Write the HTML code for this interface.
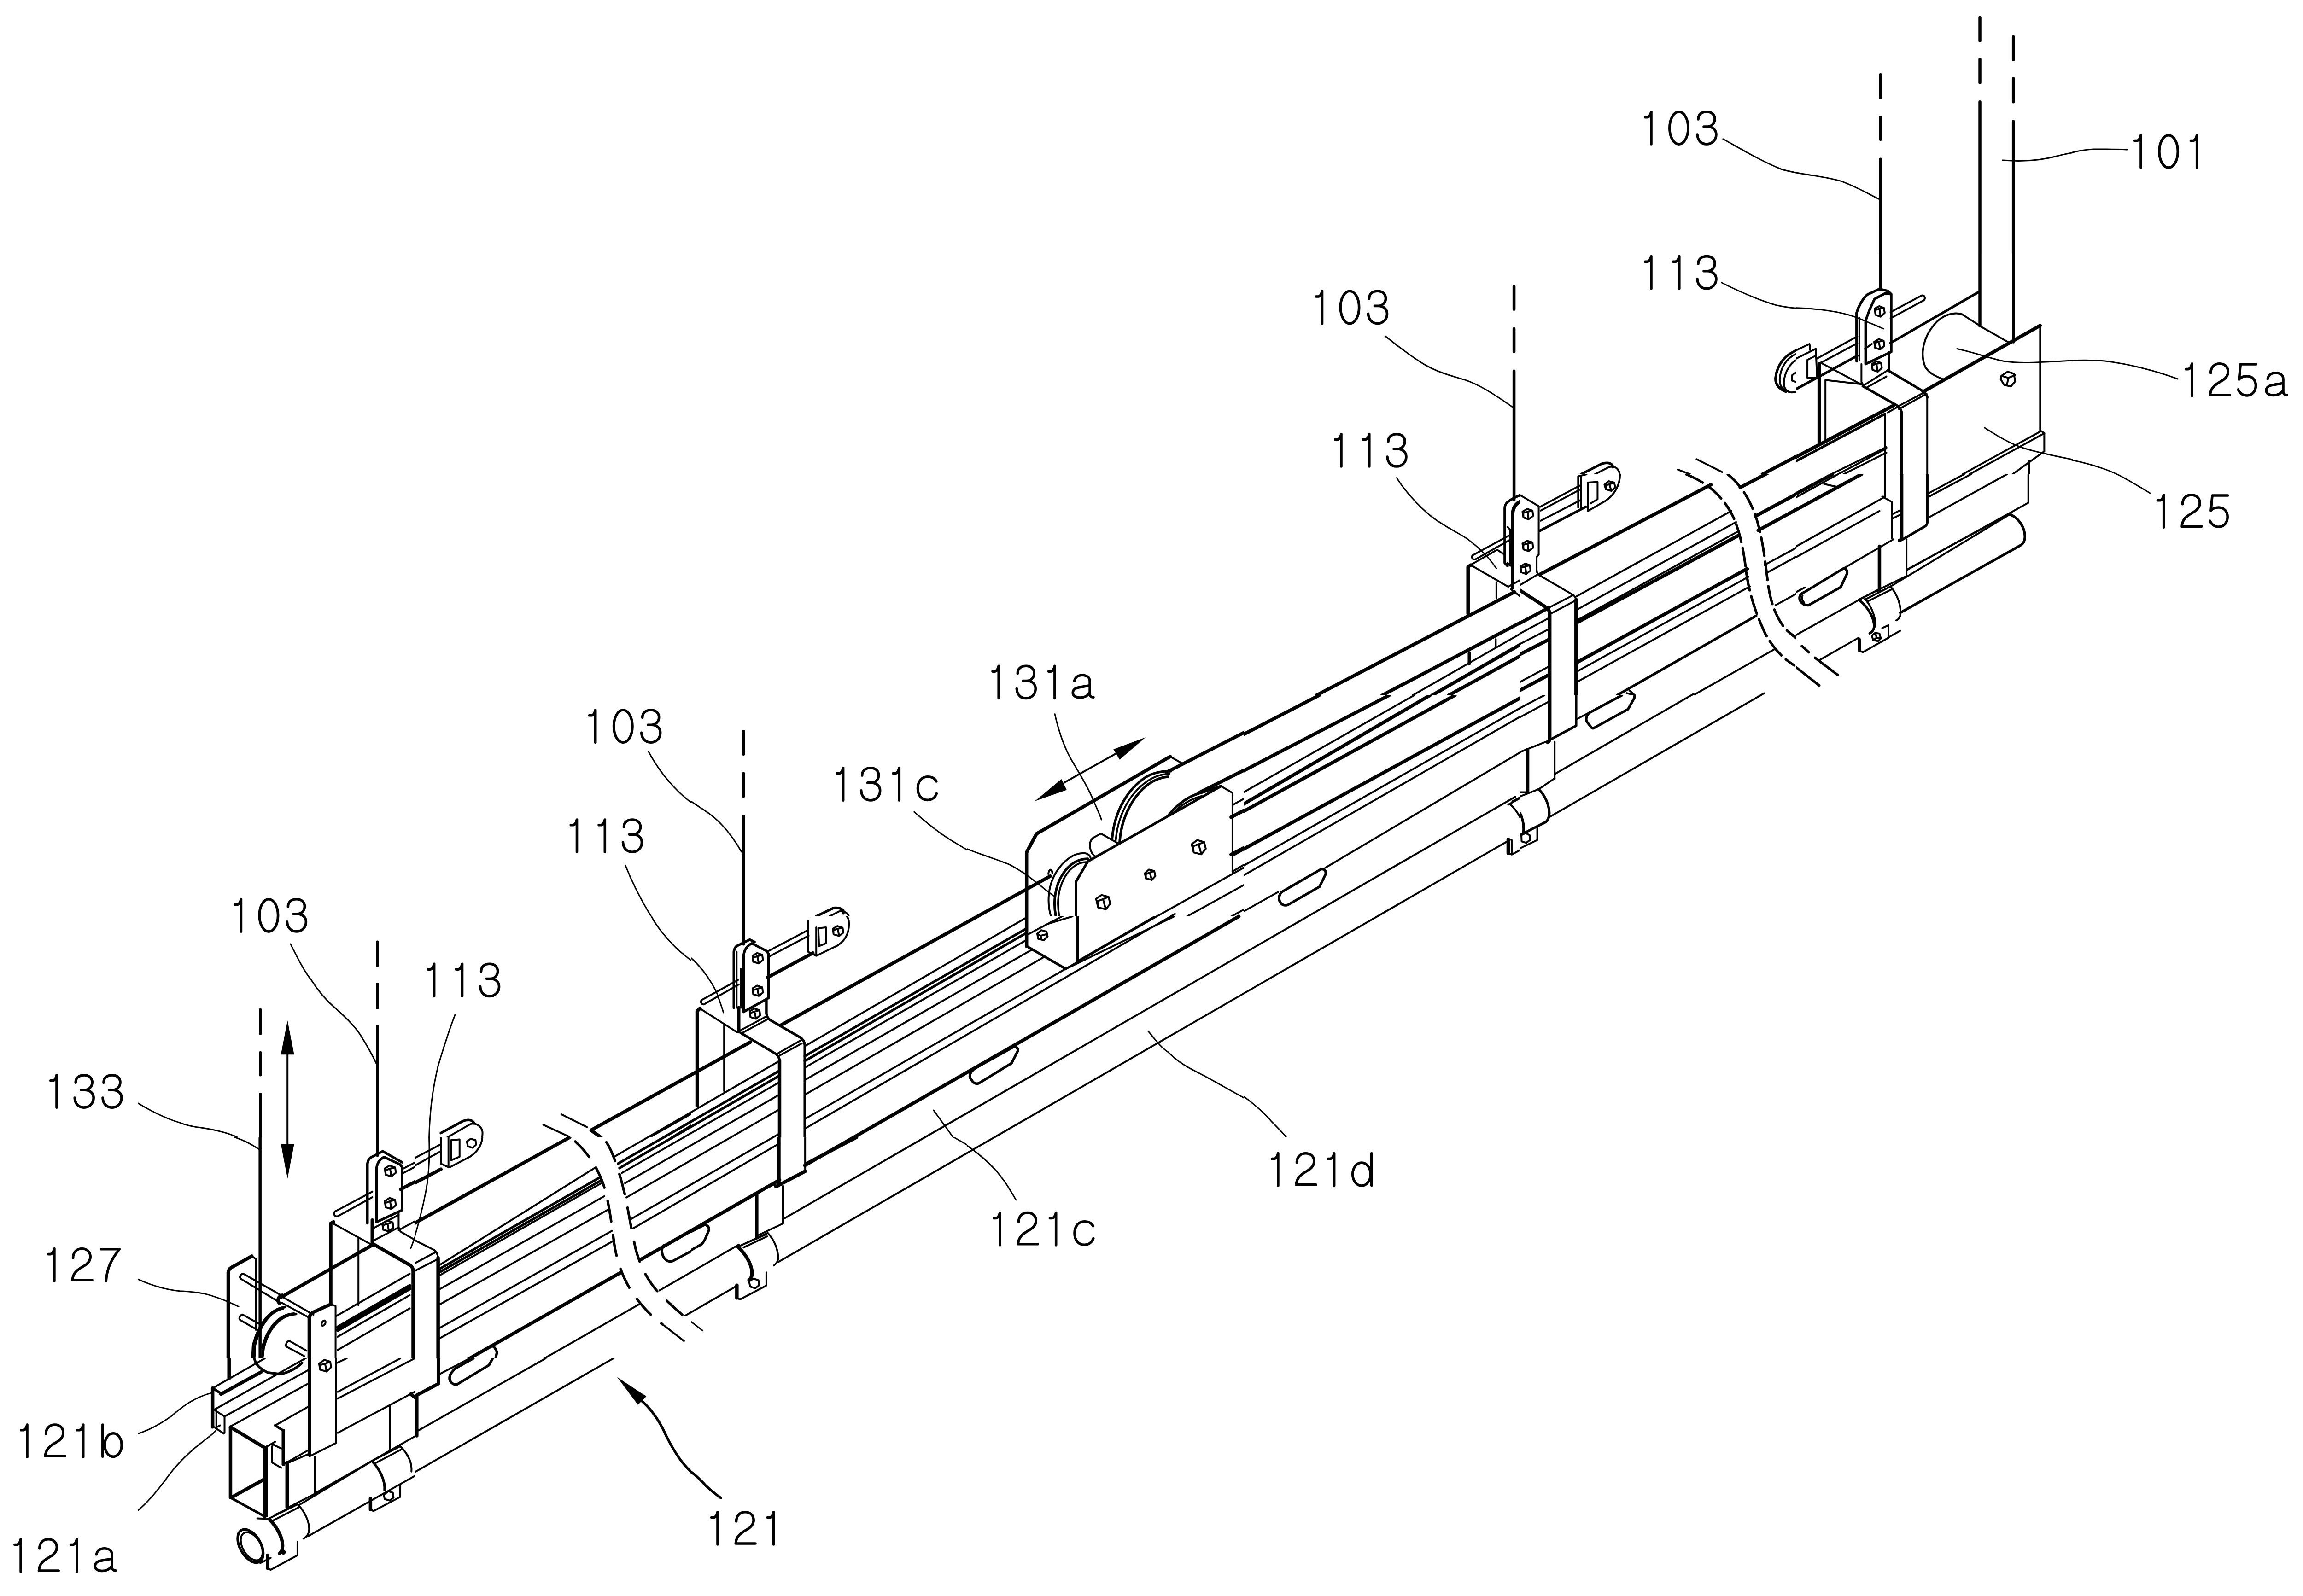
<!DOCTYPE html>
<html><head><meta charset="utf-8"><title>Patent drawing</title><style>
html,body{margin:0;padding:0;background:#fff;}
svg{display:block;}
svg *{vector-effect:non-scaling-stroke;}
path,line,polyline,ellipse,circle,polygon,rect{fill:none;stroke:#000;stroke-linecap:round;stroke-linejoin:round;stroke-width:4;}
.txt path{stroke-width:5.6;}
.k{stroke-width:7.5;} .n{stroke-width:4;} .t{stroke-width:3;} .m{stroke-width:5.5;} .h{stroke-width:6.5;}
.f{fill:#000;stroke:none;} .w{fill:#fff;stroke:none;} .fw{fill:#fff;}
</style></head>
<body><svg xmlns="http://www.w3.org/2000/svg" width="5023" height="3466" viewBox="0 0 5023 3466">
<rect x="0" y="0" width="5023" height="3466" class="w"/>
<g transform="translate(0 0) scale(1)">
<path class="t" d="M4496,332 C4510,328 4525,325 4545,324 C4570,324 4590,324 4618,325"/>
<path class="t" d="M4495,783 C4520,782 4545,782 4570,784 C4620,790 4680,805 4728,823"/>
<path class="t" d="M4498,999 C4540,1008 4580,1020 4610,1037 C4630,1048 4650,1060 4668,1071"/>
<path class="m" d="M1501,3197 C1512,3205 1522,3215 1532,3226 C1545,3238 1555,3246 1565,3253"/>
</g>
<g transform="translate(0 0) scale(1)">
<path class="k" d="M1284.4,2453.8 L1629.0,2263.1 M1695.0,2226.6 L2280.0,1902.8"/>
<path class="n" d="M1334.6,2511.6 L1692.5,2303.8 M1747.2,2272.1 L2228.7,1992.6"/>
<path class="m" d="M1342.0,2526.9 L1692.5,2325.1 M1747.2,2293.6 L2228.7,2016.3"/>
<path class="m" d="M1345.0,2536.7 L1692.5,2335.8 M1747.2,2304.2 L2228.7,2025.8"/>
<path class="n" d="M1350.0,2547.3 L1692.5,2350.1 M1747.2,2318.6 L2228.7,2041.3"/>
<path class="n" d="M1357.0,2569.5 L1692.5,2377.0 M1747.2,2345.6 L2241.0,2062.0"/>
<path class="n" d="M1360.0,2600.5 L1692.5,2409.0 M1747.2,2377.5 L2268.0,2077.6"/>
<path class="n" d="M1368.0,2648.6 L1692.5,2461.7 M1747.2,2430.2 L2512.0,1989.7"/>
<path class="n" d="M1374.0,2667.9 L1692.5,2483.0 M1747.2,2451.3 L2551.0,1984.8"/>
<path class="k" d="M1390.0,2736.0 L1692.5,2562.4 M1747.2,2531.0 L2689.5,1990.3"/>
<path class="n" d="M1432.0,2802.3 L1604.0,2703.0 M1703.0,2645.9 L3290.0,1730.2 M3375.0,1681.2 L3676.0,1507.5"/>
<path class="n" d="M1488.0,2856.9 L1598.0,2793.5 M1690.0,2740.4 L3278.0,1824.1 M3362.0,1775.6 L3830.0,1505.6"/>
</g>
<clipPath id="cr01_rear"><rect x="3900" y="550" width="600" height="480"/></clipPath>
<g clip-path="url(#cr01_rear)"><g transform="translate(3900 550) scale(0.300752)">
<path class="h" d="M607,0 L607,262"/>
<path class="h" d="M1325,0 L1325,525"/>
<path class="h" d="M1567,0 L1567,640"/>
<path class="m" d="M680,648 L1312,282"/>
<path class="n" d="M1325,525 L1540,648"/>
<path class="k" d="M915,1000 L1760,522"/>
<path class="n" d="M1760,525 L1760,1280 L1790,1298 L1790,1430"/>
<path class="n" d="M1195,440 C1130,420 1050,450 1000,510 C920,600 890,720 930,820 C960,870 1010,890 1065,912"/>
<path class="n" d="M1195,440 L1320,520"/>
<path class="t" d="M1160,690 C1300,720 1400,760 1500,780 C1600,795 1700,790 1800,785 L1995,775"/>
<path class="t" d="M1360,1260 C1450,1320 1550,1380 1650,1410 C1750,1440 1870,1465 1995,1490"/>
<path class="n" d="M1480,885 L1525,855 L1570,870 L1580,925 L1548,962 L1500,950 L1475,910 Z M1480,885 L1530,900 L1580,880 M1530,900 L1520,955"/>
<path class="n" d="M945,1030 L945,1596"/>
<path class="n" d="M1200,1596 L1765,1285 M1250,1596 L1790,1300 M1680,1596 L1680,1500 M1560,1596 L1790,1430"/>
<path class="m" d="M480,960 L720,1095 Q755,1115 760,1150 L760,1596"/>
<path class="m" d="M660,845 L905,990 Q940,1010 945,1040"/>
<path class="n" d="M480,958 L660,845 M510,968 L650,890 M735,1105 L930,1002 M740,1125 L940,1015"/>
<path class="n" d="M640,1160 L640,1596 M660,1150 L740,1105"/>
<path class="m" d="M435,780 L435,430 C450,380 480,330 510,300 L600,258 L660,272 L685,295 L685,712 L500,800 L500,490 C520,420 545,370 565,330 L640,290 L685,295"/>
<path class="n" d="M455,465 L455,770 M470,800 L470,930 L485,955 M670,712 L670,850"/>
<path class="n" d="M565,400 L598,382 L632,395 L638,430 L608,458 L572,445 Z M572,445 L570,410 L600,400 L632,395 M600,400 L608,458"/>
<path class="n" d="M562,640 L595,620 L630,632 L635,668 L605,695 L568,682 Z M568,682 L566,648 L596,638 L630,632 M596,638 L605,695"/>
<path class="n" d="M545,800 L578,780 L612,792 L617,828 L588,855 L550,842 Z M550,842 L548,808 L578,798 L612,792 M578,798 L588,855"/>
<path class="n" d="M680,425 L905,305 C925,300 935,325 920,340 L680,470"/>
<path class="n" d="M495,690 L545,655"/>
<path class="t" d="M0,395 C150,400 300,418 420,458 C500,490 560,515 628,545"/>
<path class="k" d="M0,1470 L700,1100"/>
<path class="k" d="M165,800 L165,1380"/>
<path class="n" d="M210,915 L210,1350 M210,915 L470,945 M175,790 L455,940"/>
<path class="m" d="M0,980 L440,740"/>
<path class="n" d="M0,700 L95,655 L100,700 M0,760 L140,690 L150,900 L80,900 L80,770 L140,740"/>
<path class="n" d="M150,760 L440,600 M160,800 L440,650"/>
<path class="m" d="M0,1500 L640,1160"/>
<path class="n" d="M300,1596 L650,1410 M340,1596 L650,1440 M250,1596 L650,1400"/>
</g></g>
<clipPath id="cr02_topwires"><rect x="3500" y="0" width="1000" height="550"/></clipPath>
<g clip-path="url(#cr02_topwires)"><g transform="translate(3500 0) scale(0.432339)">
<path class="h" d="M1348,375 L1348,490 M1348,588 L1348,700 M1348,800 L1348,1300"/>
<path class="h" d="M1847,88 L1847,205 M1847,298 L1847,415 M1847,512 L1847,1300"/>
<path class="h" d="M2015,185 L2015,300 M2015,395 L2015,512 M2015,610 L2015,1300"/>
<path class="t" d="M557,698 C650,750 750,810 850,850 C950,880 1050,880 1150,910 C1230,940 1290,975 1340,1000"/>
<path class="t" d="M1960,805 L2020,808 C2100,810 2180,800 2250,780 C2300,768 2350,760 2400,752"/>
</g></g>
<clipPath id="cr06"><rect x="3300" y="550" width="600" height="480"/></clipPath>
<g clip-path="url(#cr06)"><g transform="translate(3300 550) scale(0.300752)">
<path class="t" d="M1455,212 C1550,260 1700,330 1850,375 C1920,390 1960,395 2000,397"/>
<path class="m" d="M2000,700 C1920,730 1855,800 1845,900 C1842,950 1870,980 1920,1000"/>
<path class="n" d="M2000,725 C1930,750 1880,820 1875,910 C1873,960 1895,985 1940,1000"/>
<path class="n" d="M2000,770 C1950,790 1910,860 1905,930 C1903,975 1920,1000 1960,1005 C1980,1005 1995,1000 2000,998"/>
<path class="n" d="M1965,880 L1995,860 M1965,880 L1965,920 L1995,930"/>
<path class="m" d="M440,1596 L590,1520 C640,1505 670,1520 670,1545"/>
<path class="n" d="M540,1596 L640,1545 C690,1530 715,1560 720,1596"/>
<path class="n" d="M1140,1562 L1230,1596"/>
<path class="n" d="M1275,1487 L1460,1580"/>
<path class="k" d="M1750,1596 L2000,1465"/>
</g></g>
<clipPath id="cr07"><rect x="3300" y="1030" width="600" height="480"/></clipPath>
<g clip-path="url(#cr07)"><g transform="translate(3300 1030) scale(0.300752)">
<path class="n" d="M0,150 L135,230 L135,580 L120,598 L120,690 Q122,725 150,735 L378,868 Q400,880 405,905 L405,1596"/>
<path class="k" d="M405,905 L405,1596"/>
<path class="k" d="M0,838 L185,958 Q212,975 215,1005 L215,1596"/>
<path class="n" d="M0,800 L130,722 M205,965 L385,872 M215,1010 L400,912"/>
<path class="n" d="M18,270 L52,250 L90,262 L95,300 L62,325 L25,312 Z M25,312 L24,280 L55,270 L90,262 M55,270 L62,325"/>
<path class="n" d="M18,500 L52,480 L90,492 L95,530 L62,555 L25,542 Z M25,542 L24,510 L55,500 L90,492 M55,500 L62,555"/>
<path class="n" d="M5,665 L38,645 L72,657 L76,695 L45,720 L8,707 Z M8,707 L7,675 L38,665 L72,657 M38,665 L45,720"/>
<path class="n" d="M145,235 L430,82 M150,262 L430,112 M150,335 L440,185"/>
<path class="m" d="M140,410 L475,235"/>
<path class="n" d="M420,240 L420,15 L480,0 M440,245 L440,20 M490,265 L490,60 L560,55 L560,180 L510,210 M490,265 L620,190 C680,150 722,80 722,0"/>
<path class="n" d="M610,75 L640,50 L680,60 L688,95 L660,120 L620,108 Z M620,108 L618,80 L645,72 L680,60 M645,72 L660,120"/>
<path class="k" d="M145,722 L1378,75"/>
<path class="n" d="M410,880 L1525,265"/>
<path class="n" d="M410,978 L1560,345"/>
<path class="k" d="M405,1075 L1580,440"/>
<path class="n" d="M410,1055 L1570,415"/>
<path class="k" d="M405,1362 L1640,682"/>
<path class="n" d="M410,1425 L1650,740 M410,1500 L1660,810"/>
<path class="m" d="M700,1596 L1705,1022"/>
<path class="n" d="M1250,1596 L1840,1262"/>
<path class="n" d="M770,1580 L830,1596 L790,1560"/>
<path class="k" d="M1590,95 L1800,-15 M1700,302 L2000,140 M1720,405 L2000,252"/>
<path class="n" d="M1765,655 L2000,528 M1780,712 L2000,592 M1845,945 L2000,860"/>
<path class="n" d="M1960,1160 L2000,1190"/>
<path class="k" d="M0,1075 L205,965 M0,1300 L205,1195 M0,1560 L205,1450"/>
<path class="n" d="M0,1150 L205,1040 M0,1225 L205,1120 M0,1500 L205,1390"/>
<path class="m" style="stroke-dasharray:40 13" d="M1200,0 C1350,60 1450,150 1520,270 C1580,380 1610,520 1630,680 C1650,850 1700,1000 1770,1150 C1830,1260 1900,1330 1980,1380"/>
<path class="m" style="stroke-dasharray:40 13" d="M1500,0 C1600,80 1670,200 1710,330 C1750,460 1770,620 1790,790 C1810,930 1850,1040 1920,1120 C1950,1150 1980,1170 2000,1180"/>
</g></g>
<clipPath id="cr08"><rect x="3900" y="1030" width="600" height="480"/></clipPath>
<g clip-path="url(#cr08)"><g transform="translate(3900 1030) scale(0.300752)">
<path class="k" d="M760,0 L760,455 Q758,475 745,478"/>
<path class="m" d="M945,0 L945,350 Q943,368 925,378 L765,472"/>
<path class="n" d="M640,0 L640,162 L620,162 M620,160 L690,200 L690,460 M690,290 L745,262 M690,322 L745,294"/>
<path class="k" d="M600,520 L600,832"/>
<path class="n" d="M795,470 L795,735"/>
<path class="k" d="M0,140 L260,0 M0,255 L470,0"/>
<path class="n" d="M0,165 L300,0 M200,70 L290,90"/>
<path class="n" d="M0,520 L630,168"/>
<path class="n" d="M0,598 L600,265"/>
<path class="n" d="M0,850 L60,818 M340,680 L700,470"/>
<path class="m" d="M60,850 L340,680 C360,680 372,700 365,720 L320,815 L90,945 C50,950 15,915 25,880 C30,865 45,855 60,850"/>
<path class="n" d="M45,875 C40,890 40,910 55,925"/>
<path class="n" d="M0,1160 L455,905 M600,830 L795,735 M795,690 L1550,280"/>
<path class="n" d="M1675,0 L1675,205 L800,690"/>
<path class="n" d="M950,140 L1210,0 M950,165 L1260,0 M950,315 L1520,0"/>
<path class="n" d="M450,905 L600,830 M680,810 L1540,290"/>
<path class="m" d="M1540,290 C1600,310 1650,380 1650,450 C1650,480 1640,500 1620,512 L750,1000"/>
<path class="n" d="M170,1340 L450,1180 M660,1180 L750,1130"/>
<path class="m" d="M455,910 C520,960 570,1050 560,1110 C555,1130 545,1140 530,1148"/>
<path class="n" d="M495,900 C540,950 575,1030 570,1100 M680,810 C730,870 760,950 750,1020 C745,1040 735,1050 720,1055"/>
<path class="n" d="M495,905 L680,810 M510,920 L690,830 M455,905 L580,840 L590,850"/>
<path class="n" d="M450,1190 L450,1270 L480,1285 L665,1180 L665,1090 L620,1110"/>
<path class="k" d="M455,1195 L455,1270"/>
<path class="n" d="M545,1165 L570,1145 L600,1150 L610,1185 L590,1205 L555,1198 Z M570,1145 L580,1180 L555,1198 M580,1180 L610,1185"/>
<path class="m" d="M40,1240 L90,1285 M135,1325 L300,1450 M0,1395 L165,1525"/>
</g></g>
<clipPath id="cr10"><rect x="2700" y="550" width="600" height="480"/></clipPath>
<g clip-path="url(#cr10)"><g transform="translate(2700 550) scale(0.300752)">
<path class="h" d="M1952,240 L1952,405 M1952,545 L1952,710 M1952,850 L1952,1700"/>
<path class="t" d="M1022,598 C1100,660 1200,740 1300,800 C1400,860 1500,885 1600,915 C1700,950 1800,1010 1940,1110"/>
</g></g>
<clipPath id="cr11"><rect x="2700" y="1030" width="600" height="480"/></clipPath>
<g clip-path="url(#cr11)"><g transform="translate(2700 1030) scale(0.300752)">
<path class="h" d="M1952,0 L1952,185"/>
<path class="m" d="M2000,148 C1960,165 1925,185 1905,200 Q1885,220 1885,245 L1885,640 L1905,662"/>
<path class="k" d="M2000,195 C1965,210 1945,240 1942,285 L1942,820"/>
<path class="n" d="M1905,380 L1925,400 L1925,660 M1905,640 L1925,660"/>
<path class="n" d="M1662,580 L1920,440 M1672,615 L1925,472 M1662,580 C1640,585 1645,620 1672,615"/>
<path class="t" d="M1105,25 C1150,100 1250,220 1350,300 C1450,380 1550,420 1620,470 C1700,530 1770,600 1825,680"/>
<path class="k" d="M1620,1005 L1620,668 L1640,656"/>
<path class="n" d="M1640,656 L1910,812 M1825,780 L1825,895 M1650,648 L1830,545 L1880,578 M1910,812 L1995,765 M1930,830 L1995,880"/>
<path class="k" d="M525,1596 L1955,850"/>
<path class="k" d="M1000,1596 L2000,1070"/>
<path class="n" d="M1220,1596 L2000,1150"/>
<path class="k" d="M1360,1596 L2000,1228 M1480,1596 L2000,1310"/>
<path class="k" d="M1630,1290 L1630,1365"/>
<path class="n" d="M1820,1190 L1820,1245"/>
</g></g>
<clipPath id="cr12"><rect x="2700" y="1510" width="600" height="480"/></clipPath>
<g clip-path="url(#cr12)"><g transform="translate(2700 1510) scale(0.300752)">
<path class="k" d="M0,282 L545,0"/>
<path class="k" d="M0,545 L1050,0"/>
<path class="n" d="M0,700 L1230,0"/>
<path class="k" d="M0,785 L1345,0"/>
<path class="k" d="M0,838 L1525,0"/>
<path class="k" d="M0,1110 L2000,18"/>
<path class="n" d="M0,1230 L2000,90"/>
<path class="n" d="M0,1300 L2000,152"/>
<path class="n" d="M0,1560 L250,1420 M590,1245 L2000,410"/>
<path class="m" d="M275,1420 L560,1255 Q598,1252 592,1292 L548,1382 L322,1512 Q290,1525 268,1500 Q240,1460 275,1420"/>
<path class="n" d="M1910,790 L2000,740 M1920,782 C1950,810 1980,850 1995,880 M1940,765 L2000,735"/>
<path class="k" d="M1910,1040 L1910,1140"/>
<path class="n" d="M1910,1140 L1935,1150 L2000,1115 M1935,1045 L1935,1150"/>
</g></g>
<clipPath id="cr13"><rect x="3300" y="1510" width="600" height="480"/></clipPath>
<g clip-path="url(#cr13)"><g transform="translate(3300 1510) scale(0.300752)">
<path class="k" d="M215,0 L215,315 Q212,335 200,340"/>
<path class="m" d="M405,0 L405,220 L215,322"/>
<path class="n" d="M0,92 L175,0 M0,158 L200,50"/>
<path class="k" d="M55,392 L55,702"/>
<path class="n" d="M250,335 L250,600 M0,410 L200,330 M410,172 L735,0"/>
<path class="m" d="M530,238 L780,100 L825,20 L828,0 M482,190 C470,160 490,130 512,120 L735,0 M482,190 L510,225 Q520,240 530,238"/>
<path class="n" d="M0,730 L135,678 L250,600 M0,700 L50,700"/>
<path class="m" d="M135,678 C180,720 210,790 212,850 C212,880 200,905 185,915 L0,1010"/>
<path class="m" d="M0,850 C20,890 30,940 25,990"/>
<path class="n" d="M0,1105 L125,1045 L125,950 M10,1010 L40,995 L70,1010 L72,1045 L45,1065 L12,1055 Z"/>
</g></g>
<clipPath id="cr14"><rect x="2100" y="1510" width="600" height="480"/></clipPath>
<g clip-path="url(#cr14)"><g transform="translate(2100 1510) scale(0.300752)">
<path class="t" d="M632,135 C660,260 700,380 760,480 C820,580 880,680 920,780 C950,850 965,880 968,898"/>
<path class="t" d="M0,1110 C100,1150 200,1180 300,1220 C400,1270 500,1350 560,1400 L625,1450"/>
<path class="n" d="M700,630 L1075,420"/>
<path class="f" d="M1287,303 L1055,390 L1100,465 Z M487,765 L680,605 L718,683 Z"/>
<path class="k" d="M428,1600 L428,1135 L500,1000 L1465,442"/>
<path class="n" d="M1465,442 L1552,492"/>
<path class="k" d="M1440,555 L2000,268"/>
<path class="k" d="M1680,700 L2000,540"/>
<path class="m" d="M1045,1040 C1060,850 1150,680 1290,590 C1350,555 1420,545 1470,548"/>
<path class="n" d="M1072,1048 C1085,870 1170,710 1300,620 C1360,580 1420,568 1460,568"/>
<path class="m" d="M1100,1062 C1110,890 1190,730 1310,640 C1370,600 1420,590 1450,588"/>
<path class="m" d="M785,1600 L785,1345 L870,1200 L1832,656"/>
<path class="n" d="M1832,656 L1915,705 L1915,1275"/>
<path class="n" d="M1620,1075 L1660,1045 L1710,1060 L1722,1108 L1690,1148 L1635,1135 Z M1635,1135 L1630,1090 L1670,1075 L1710,1060 M1670,1075 L1690,1148"/>
<path class="n" d="M1282,1285 L1312,1258 L1350,1268 L1358,1305 L1332,1333 L1290,1322 Z M1290,1322 L1288,1292 L1318,1280 L1350,1268 M1318,1280 L1332,1333"/>
<path class="n" d="M930,1470 L970,1442 L1020,1455 L1032,1505 L1000,1545 L945,1532 Z M945,1532 L940,1487 L980,1472 L1020,1455 M980,1472 L1000,1545"/>
<path class="m" d="M640,1600 C620,1500 630,1380 690,1290 C740,1215 800,1180 870,1180"/>
<path class="n" d="M605,1600 C575,1500 580,1380 640,1280 C690,1200 760,1140 840,1140 C870,1140 890,1160 890,1175"/>
<path class="n" d="M665,1600 C645,1500 655,1400 705,1310 C750,1235 810,1200 870,1205"/>
<path class="n" d="M585,1290 C590,1255 610,1245 615,1285"/>
<path class="n" d="M932,1168 C880,1140 870,1060 910,1028 L965,998 L1090,1070"/>
<path class="m" d="M1450,870 C1520,780 1600,725 1700,700 L1830,655"/>
<path class="n" d="M1480,860 C1540,790 1610,750 1690,728"/>
<path class="n" d="M1915,792 L2000,745 M1915,880 L2000,832 M1915,1160 L2000,1112 M1915,1272 L2000,1222"/>
<path class="k" d="M1905,1150 L2000,1100 M1905,880 L2000,830"/>
<path class="n" d="M1362,1600 L2000,1242 M1580,1600 L2000,1368 M1900,1600 L2000,1545"/>
</g></g>
<clipPath id="cr15"><rect x="1500" y="1510" width="600" height="480"/></clipPath>
<g clip-path="url(#cr15)"><g transform="translate(1500 1510) scale(0.300752)">
<path class="h" d="M380,260 L380,425 M380,565 L380,728 M380,872 L380,1700"/>
<path class="t" d="M0,765 C50,800 100,830 140,860 C220,920 290,1000 365,1130"/>
<path class="t" d="M1612,842 C1700,920 1800,1000 1900,1060 L2000,1120"/>
<path class="m" d="M905,1596 L1030,1535 C1080,1530 1110,1550 1100,1575"/>
<path class="n" d="M1000,1596 L1070,1560 C1110,1555 1135,1575 1140,1596"/>
</g></g>
<clipPath id="cr16"><rect x="1500" y="1990" width="600" height="480"/></clipPath>
<g clip-path="url(#cr16)"><g transform="translate(1500 1990) scale(0.300752)">
<path class="h" d="M380,0 L380,200"/>
<path class="t" d="M0,300 C80,370 150,470 190,560 C210,620 225,660 235,695"/>
<path class="m" d="M310,660 L310,255 Q315,220 340,210 L425,168 L460,185"/>
<path class="m" d="M380,690 L380,300 C380,250 400,215 440,195 L545,250 L560,270 L560,590 L380,690"/>
<path class="k" d="M345,660 L345,832"/>
<path class="n" d="M330,255 L330,660 M360,380 L360,660"/>
<path class="n" d="M445,285 L478,265 L515,278 L520,315 L490,340 L450,328 Z M450,328 L448,298 L480,288 L515,278 M480,288 L490,340"/>
<path class="n" d="M445,520 L478,500 L515,513 L520,550 L490,575 L450,563 Z M450,563 L448,533 L480,523 L515,513 M480,523 L490,575"/>
<path class="n" d="M425,685 L458,665 L495,678 L500,715 L470,740 L430,728 Z M430,728 L428,698 L460,688 L495,678 M460,688 L470,740"/>
<path class="n" d="M85,600 L340,460 M95,635 L345,492 M85,600 C65,605 70,640 95,635"/>
<path class="n" d="M560,250 L845,100 M565,290 L850,140"/>
<path class="k" d="M555,440 L880,265"/>
<path class="n" d="M845,30 L845,255 L905,285 L905,80 M920,85 L975,80 L975,195 L925,215 Z M905,285 L1060,210 C1120,170 1145,110 1140,40 C1139,20 1132,8 1125,0"/>
<path class="n" d="M1025,90 L1058,70 L1095,82 L1100,118 L1070,142 L1030,130 Z M1030,130 L1028,100 L1060,90 L1095,82 M1060,90 L1070,142"/>
<path class="k" d="M45,1368 L45,685 L65,665"/>
<path class="n" d="M65,665 L330,835 M240,790 L240,1262"/>
<path class="m" d="M360,842 L608,990 Q636,1008 640,1040 L640,1600"/>
<path class="k" d="M640,1040 L640,1600"/>
<path class="m" d="M545,600 L545,700 Q548,735 575,750 L790,875 Q820,895 822,930 L822,1600"/>
<path class="n" d="M630,988 L800,892 M628,1012 L800,918 M360,822 L545,722 M370,842 L550,745"/>
<path class="t" d="M1752,1400 C1800,1470 1850,1530 1895,1600"/>
</g></g>
<clipPath id="cr17"><rect x="2100" y="1990" width="600" height="480"/></clipPath>
<g clip-path="url(#cr17)"><g transform="translate(2100 1990) scale(0.300752)">
<path class="k" d="M428,0 L428,215"/>
<path class="m" d="M428,215 L712,380"/>
<path class="k" d="M795,0 L795,330"/>
<path class="n" d="M505,125 L535,100 L572,110 L580,145 L552,172 L512,162 Z M505,125 L530,140 L575,128 M530,140 L535,168"/>
<path class="n" d="M440,130 L580,55 L760,0 M580,55 L760,-40"/>
<path class="n" d="M712,380 L1495,0 M805,318 L1355,0"/>
<path class="m" d="M60,1095 L340,940 Q368,945 365,972 L320,1060 L85,1205 Q60,1215 40,1195 L20,1165 Q10,1130 60,1095"/>
<path class="t" d="M1305,828 C1350,880 1400,950 1450,980 C1500,1030 1550,1070 1650,1120 C1750,1170 1850,1230 2000,1312"/>
</g></g>
<clipPath id="cr18"><rect x="2700" y="1990" width="600" height="480"/></clipPath>
<g clip-path="url(#cr18)"><g transform="translate(2700 1990) scale(0.300752)">
<path class="t" d="M0,1300 C80,1360 150,1420 200,1480 C250,1530 290,1570 312,1600"/>
</g></g>
<clipPath id="cr19"><rect x="900" y="1990" width="600" height="480"/></clipPath>
<g clip-path="url(#cr19)"><g transform="translate(900 1990) scale(0.300752)">
<path class="t" d="M1710,0 C1750,80 1820,160 1900,240 L2000,322"/>
<path class="t" d="M292,712 C250,820 200,980 170,1080 C130,1250 110,1400 105,1600"/>
<path class="m" d="M190,1565 L350,1478 C390,1462 420,1472 430,1495"/>
<path class="n" d="M230,1600 L400,1502 C440,1487 480,1512 490,1552 C492,1572 490,1585 488,1600"/>
<path class="n" d="M1060,1430 L1245,1522 M930,1505 L1118,1592"/>
<path class="n" d="M1690,1600 L2000,1425 M1850,1600 L2000,1508"/>
<path class="k" d="M1275,1545 L1345,1595"/>
</g></g>
<clipPath id="cr20"><rect x="900" y="1510" width="600" height="480"/></clipPath>
<g clip-path="url(#cr20)"><g transform="translate(900 1510) scale(0.300752)">
<path class="t" d="M1690,408 C1750,520 1830,620 1900,690 C1940,730 1970,755 2000,775"/>
<path class="t" d="M1522,1228 C1570,1350 1630,1470 1710,1600"/>
</g></g>
<clipPath id="cr21"><rect x="300" y="1990" width="600" height="480"/></clipPath>
<g clip-path="url(#cr21)"><g transform="translate(300 1990) scale(0.300752)">
<path class="h" d="M882,675 L882,845 M882,985 L882,1145 M882,1285 L882,1700"/>
<path class="n" d="M1078,990 L1078,1700"/>
<path class="f" d="M1078,752 L1030,998 L1126,998 Z"/>
<path class="h" d="M1727,185 L1727,355 M1727,490 L1727,660 M1727,795 L1727,1700"/>
<path class="t" d="M1100,200 C1150,300 1200,400 1250,460 C1300,540 1350,600 1420,660 C1500,730 1560,790 1600,850 C1650,930 1690,1000 1720,1065"/>
<path class="t" d="M0,1350 C100,1410 200,1460 300,1490 C350,1510 400,1520 450,1525 C550,1540 650,1560 725,1600"/>
</g></g>
<clipPath id="cr22"><rect x="300" y="2470" width="600" height="480"/></clipPath>
<g clip-path="url(#cr22)"><g transform="translate(300 2470) scale(0.300752)">
<path class="h" d="M880,0 L880,1600"/>
<path class="n" d="M1078,0 L1078,60"/>
<path class="f" d="M1078,298 L1030,48 L1126,48 Z"/>
<path class="h" d="M1727,0 L1727,130"/>
<path class="t" d="M700,0 C760,20 820,50 870,85"/>
<path class="t" d="M0,1025 C100,1070 200,1100 300,1110 C400,1115 470,1125 520,1140 C600,1165 660,1190 725,1222"/>
<path class="k" d="M650,1600 L650,975 Q654,950 672,940 L820,858"/>
<path class="n" d="M820,858 L850,878 L850,1390"/>
<path class="n" d="M760,985 L1040,1145 M742,1022 L1010,1185 M760,985 C735,985 728,1015 742,1022"/>
<path class="k" d="M1040,1140 C1010,1150 1000,1180 1020,1198"/>
<path class="n" d="M1052,1158 L1265,1280 M1038,1195 L1240,1305"/>
<path class="n" d="M755,1280 L870,1345 M738,1320 L860,1390 M755,1280 C730,1282 725,1312 738,1320"/>
<path class="n" d="M1092,1470 L1215,1540 M1072,1512 L1200,1580 M1092,1470 C1068,1472 1062,1505 1072,1512"/>
<path class="m" d="M1060,1225 C950,1240 870,1350 830,1500 L825,1600"/>
<path class="n" d="M1045,1238 C950,1258 880,1362 845,1500 L840,1600"/>
<path class="m" d="M1140,1275 C1020,1282 940,1382 905,1522 L895,1600"/>
<path class="n" d="M1125,1270 C1010,1277 930,1380 893,1520"/>
<path class="k" d="M1235,1600 L1235,1305 Q1240,1275 1265,1262 L1390,1205"/>
<path class="n" d="M1390,1205 L1425,1218 L1425,1600"/>
<path class="n" d="M1325,1355 C1320,1335 1345,1310 1352,1330 C1356,1350 1330,1370 1325,1355"/>
<path class="k" d="M1035,1152 L1700,772"/>
<path class="n" d="M1880,670 L2000,605"/>
<path class="k" d="M1390,1205 L1390,622 L1410,610"/>
<path class="n" d="M1395,615 L1680,772 M1590,730 L1590,1212"/>
<path class="m" d="M1655,620 L1655,190 Q1660,150 1690,140 L1765,100 L1905,180"/>
<path class="m" d="M1720,612 L1720,240 C1720,190 1740,160 1775,142 L1890,195 L1905,215 L1905,525 L1720,612"/>
<path class="k" d="M1690,598 L1690,772"/>
<path class="n" d="M1780,225 L1815,203 L1855,217 L1860,255 L1828,282 L1787,270 Z M1787,270 L1785,238 L1818,226 L1855,217 M1818,226 L1828,282"/>
<path class="n" d="M1780,460 L1815,438 L1855,452 L1860,490 L1828,517 L1787,505 Z M1787,505 L1785,473 L1818,461 L1855,452 M1818,461 L1828,517"/>
<path class="n" d="M1762,622 L1797,600 L1837,614 L1842,652 L1810,679 L1769,667 Z M1769,667 L1767,635 L1800,623 L1837,614 M1800,623 L1810,679"/>
<path class="n" d="M1430,530 L1690,392 M1440,570 L1690,432 M1430,530 C1405,535 1410,575 1440,570"/>
<path class="n" d="M1905,230 L2000,180 M1905,262 L2000,212 M1690,660 L1880,560 M1700,745 L1880,650"/>
<path class="k" d="M1895,375 L2000,320"/>
<path class="k" d="M1700,772 L1958,920 Q1985,935 1985,968 L1985,1600"/>
<path class="n" d="M1880,545 L1880,650 Q1885,680 1910,690 L2000,742"/>
<path class="n" d="M1430,1290 L1960,985 M1440,1440 L1960,1140 M1440,1535 L1960,1235"/>
<path class="k" d="M1440,1372 L1960,1072 M1440,1392 L1960,1092"/>
<path class="t" d="M1968,800 L2000,715"/>
</g></g>
<clipPath id="cr23"><rect x="300" y="2950" width="600" height="516"/></clipPath>
<g clip-path="url(#cr23)"><g transform="translate(300 2950) scale(0.323311)">
<path class="k" d="M610,0 L610,135"/>
<path class="m" d="M780,0 Q792,60 870,95 L950,105 C1000,100 1060,70 1100,30"/>
<path class="k" d="M1150,0 L1150,645"/>
<path class="n" d="M1330,0 L1330,568 L1150,658"/>
<path class="n" d="M1215,35 L1250,10 L1290,22 L1295,60 L1265,88 L1222,76 Z M1222,76 L1220,45 L1255,35 L1290,22 M1255,35 L1265,88"/>
<path class="k" d="M500,200 L500,460"/>
<path class="m" d="M500,200 L560,238"/>
<path class="n" d="M500,200 L850,0"/>
<path class="k" d="M556,240 L825,92"/>
<path class="n" d="M510,345 L1140,-10 M580,390 L1140,80 M615,460 L1140,170"/>
<path class="n" d="M510,345 L580,390 L580,500 M500,455 L575,505 M525,345 L525,462 M530,460 L550,450"/>
<path class="k" d="M620,462 L850,600 L850,1062"/>
<path class="k" d="M620,462 L620,935"/>
<path class="m" d="M620,935 L850,1062"/>
<path class="k" d="M625,935 L850,810"/>
<path class="n" d="M865,590 L865,1062 M850,600 L920,560"/>
<path class="m" d="M920,450 L975,485"/>
<path class="k" d="M975,485 L975,712"/>
<path class="n" d="M920,450 L1150,320 M900,590 L900,700 L960,735 M905,578 L960,605 M975,712 L1150,612"/>
<path class="k" d="M1000,700 L1000,1000"/>
<path class="n" d="M1185,660 L1185,910 L1000,1005 M1010,700 L1150,640"/>
<path class="m" d="M754,1260 m-122,0 a122,70 0 1,0 244,0 a122,70 0 1,0 -244,0" transform="rotate(60 754 1260)"/>
<path class="n" d="M762,1262 m-103,0 a103,60 0 1,0 206,0 a103,60 0 1,0 -206,0" transform="rotate(60 762 1262)"/>
<path class="n" d="M800,1075 L880,1078 M1080,985 L1570,690 M1140,1195 L1856,790 M1190,905 L1856,525"/>
<path class="n" d="M820,1375 L890,1340"/>
<path class="k" d="M880,1080 C930,1130 970,1200 970,1260 C970,1290 960,1300 950,1310"/>
<path class="n" d="M1075,985 C1120,1030 1150,1100 1148,1150 C1146,1180 1130,1200 1110,1210"/>
<path class="n" d="M880,1075 L1070,980 M900,1092 L1080,1000 M920,1050 L1050,990"/>
<path class="k" d="M870,1322 L870,1410"/>
<path class="n" d="M870,1410 L890,1420 L1070,1322 L1070,1232"/>
<circle class="f" cx="975" cy="1302" r="16"/>
<path class="m" d="M1570,690 C1620,740 1660,820 1655,885"/>
<path class="n" d="M1760,590 C1810,640 1840,700 1835,760 M1570,690 L1760,590 M1590,705 L1770,610"/>
<path class="n" d="M1560,935 L1560,1015 L1580,1025 L1760,930 L1760,850"/>
<path class="k" d="M1560,940 L1560,1015"/>
<path class="n" d="M1650,915 L1680,892 L1710,902 L1715,935 L1690,955 L1655,945 Z"/>
<path class="t" d="M0,505 C80,480 150,440 220,390 C300,320 380,260 500,230"/>
<path class="t" d="M0,1020 C60,970 120,900 180,820 C250,720 330,640 420,570 C460,540 500,510 522,485"/>
<path class="n" d="M1335,30 L1400,0 M1340,225 L1760,0 M1340,270 L1856,0 M1340,500 L1856,225 M1690,320 L1690,620"/>
<path class="k" d="M1830,240 L1856,260"/>
</g></g>
<clipPath id="cr24"><rect x="900" y="2470" width="600" height="480"/></clipPath>
<g clip-path="url(#cr24)"><g transform="translate(900 2470) scale(0.300752)">
<path class="k" d="M170,870 L170,1600"/>
<path class="n" d="M0,742 L140,812 Q165,830 170,870"/>
<path class="n" d="M0,910 L150,830 M0,965 L165,880"/>
<path class="t" d="M105,0 C110,150 100,300 80,400 C60,500 30,620 0,720"/>
<path class="n" d="M190,0 L190,190 L245,215 L245,0 M265,20 L325,15 L325,140 L265,165 Z M255,215 L400,140 C460,100 485,50 490,0"/>
<path class="n" d="M378,30 L405,10 L440,20 L445,52 L420,75 L385,65 Z"/>
<path class="n" d="M0,150 L190,50 M0,205 L190,100"/>
<path class="k" d="M0,330 L190,230"/>
<path class="k" d="M0,620 L1120,0"/>
<path class="n" d="M175,925 L1310,215 M175,1000 L1350,330 M175,1100 L1370,425 M175,1210 L1400,520 M175,1380 L1425,675 M175,1455 L1440,745"/>
<path class="m" d="M175,953 L1340,288 M175,977 L1345,312"/>
<path class="k" d="M390,1600 L1490,975"/>
<path class="n" d="M930,1600 L1630,1200"/>
<path class="m" d="M555,1500 L580,1520 L595,1550 L585,1600"/>
<path class="m" style="stroke-dasharray:45 30" d="M1160,30 C1250,110 1320,220 1360,330 C1400,450 1420,600 1440,760 C1460,900 1510,1040 1600,1160 C1660,1240 1720,1300 1790,1350"/>
<path class="n" d="M1790,1350 L1945,1470"/>
<path class="m" style="stroke-dasharray:45 30" d="M1385,35 C1430,100 1480,250 1520,420 C1550,560 1570,700 1600,820 C1640,960 1700,1060 1780,1140 C1840,1200 1920,1270 2000,1340"/>
<path class="m" d="M1800,780 C1780,800 1780,850 1810,880 C1830,900 1850,900 1870,890 L2000,820"/>
</g></g>
<clipPath id="cr25"><rect x="900" y="2950" width="600" height="516"/></clipPath>
<g clip-path="url(#cr25)"><g transform="translate(900 2950) scale(0.323311)">
<path class="k" d="M160,0 L160,170 L0,255"/>
<path class="k" d="M15,255 L15,520"/>
<path class="m" d="M270,70 L395,0 M525,0 L500,45 L285,175 Q265,180 245,160 Q225,135 245,100 L270,70"/>
<path class="n" d="M160,110 L370,0 M15,490 L880,0 M0,765 L1335,0"/>
<path class="f" d="M1360,125 L1557,255 L1500,312 Z"/>
<path class="m" d="M1525,285 C1600,350 1650,430 1690,520 C1740,620 1790,700 1860,765"/>
</g></g>
<clipPath id="cr26"><rect x="1500" y="2470" width="600" height="480"/></clipPath>
<g clip-path="url(#cr26)"><g transform="translate(1500 2470) scale(0.300752)">
<path class="k" d="M635,0 L635,338 Q630,355 612,352"/>
<path class="n" d="M825,0 L825,245"/>
<path class="k" d="M635,345 L825,245"/>
<path class="m" d="M0,682 L100,630 Q135,640 130,670 L100,740 L80,770 L0,815"/>
<path class="k" d="M475,405 L475,725"/>
<path class="n" d="M665,350 L665,622 L490,705 M475,405 L600,340"/>
<path class="k" d="M830,192 L1195,0"/>
<path class="k" d="M340,790 C390,840 430,900 440,960 C445,1000 435,1020 420,1030"/>
<path class="n" d="M555,690 C600,740 625,800 630,860 C632,890 620,910 600,925 M340,790 L555,690 M372,775 L545,700 M380,795 L550,715"/>
<path class="k" d="M332,1068 L332,1160"/>
<path class="n" d="M332,1160 L355,1170 L545,1070 L545,975 M420,1040 L452,1020 L488,1032 L492,1068 L465,1090 L428,1078 Z"/>
<path class="t" d="M0,1330 L85,1395 M1900,0 L2000,58"/>
</g></g>
<clipPath id="cr27"><rect x="2100" y="2470" width="600" height="480"/></clipPath>
<g clip-path="url(#cr27)"><g transform="translate(2100 2470) scale(0.300752)">
<path class="t" d="M0,60 C100,130 180,200 240,280 C290,340 320,400 352,452"/>
</g></g>
<g class="txt">
<path transform="translate(3559.2 240.0)" d="M12.6,14.6 L17,14.6 C21,14.6 24,9.5 25.8,2.8 M25.8,2.8 L25.8,73"/>
<path transform="translate(3620.0 240.0)" d="M4.8,38 A20.2,35.2 0 1,0 45.2,38 A20.2,35.2 0 1,0 4.8,38"/>
<path transform="translate(3680.9 240.0)" d="M6.1,19 C6.1,8 14.1,2.8 24.6,2.8 C35.1,2.8 42.1,9 42.1,18.5 C42.1,28 35.1,34.5 26.1,35 L18.1,35 M26.1,35 C37.1,35 45.1,42 45.1,52 C45.1,64 36.1,73 24.1,73 C12.1,73 4.6,64 4.1,52"/>
<path transform="translate(4622.2 290.9)" d="M12.6,14.6 L17,14.6 C21,14.6 24,9.5 25.8,2.8 M25.8,2.8 L25.8,73"/>
<path transform="translate(4683.1 290.9)" d="M4.8,38 A20.2,35.2 0 1,0 45.2,38 A20.2,35.2 0 1,0 4.8,38"/>
<path transform="translate(4743.9 290.9)" d="M12.6,14.6 L17,14.6 C21,14.6 24,9.5 25.8,2.8 M25.8,2.8 L25.8,73"/>
<path transform="translate(3559.2 553.8)" d="M12.6,14.6 L17,14.6 C21,14.6 24,9.5 25.8,2.8 M25.8,2.8 L25.8,73"/>
<path transform="translate(3620.0 553.8)" d="M12.6,14.6 L17,14.6 C21,14.6 24,9.5 25.8,2.8 M25.8,2.8 L25.8,73"/>
<path transform="translate(3680.9 553.8)" d="M6.1,19 C6.1,8 14.1,2.8 24.6,2.8 C35.1,2.8 42.1,9 42.1,18.5 C42.1,28 35.1,34.5 26.1,35 L18.1,35 M26.1,35 C37.1,35 45.1,42 45.1,52 C45.1,64 36.1,73 24.1,73 C12.1,73 4.6,64 4.1,52"/>
<path transform="translate(4733.2 787.0)" d="M12.6,14.6 L17,14.6 C21,14.6 24,9.5 25.8,2.8 M25.8,2.8 L25.8,73"/>
<path transform="translate(4794.1 787.0)" d="M5.6,22.7 C5.6,10 14,2.8 24.9,2.8 C36,2.8 43.2,10 43.2,20.2 C43.2,30 37,36 28,41 C14,49 5,56 4.3,71 L47,71"/>
<path transform="translate(4854.9 787.0)" d="M43.1,3.9 L9.5,3.9 L6.3,37 C10.1,32 16.1,29.9 23.8,29.9 C35.1,29.9 42.6,39 42.6,50.5 C42.6,63 34.1,72 23.8,72 C14.1,72 7.1,66 4.3,59"/>
<path transform="translate(4915.8 787.0)" d="M7.5,35.7 C9.3,27 16.3,22.7 24.3,22.7 C34.3,22.7 41.2,27 41.2,36 L41.2,64 C41.2,68 44.3,70.8 49,70.8 M41.2,45 C32.3,47 22.3,48 14.3,50 C7.3,52 4.3,56 4.3,61 C4.3,67 10.3,71.5 19.3,71.5 C29.3,71.5 37.3,67 41.2,60"/>
<path transform="translate(4671.9 1072.1)" d="M12.6,14.6 L17,14.6 C21,14.6 24,9.5 25.8,2.8 M25.8,2.8 L25.8,73"/>
<path transform="translate(4732.8 1072.1)" d="M5.6,22.7 C5.6,10 14,2.8 24.9,2.8 C36,2.8 43.2,10 43.2,20.2 C43.2,30 37,36 28,41 C14,49 5,56 4.3,71 L47,71"/>
<path transform="translate(4793.6 1072.1)" d="M43.1,3.9 L9.5,3.9 L6.3,37 C10.1,32 16.1,29.9 23.8,29.9 C35.1,29.9 42.6,39 42.6,50.5 C42.6,63 34.1,72 23.8,72 C14.1,72 7.1,66 4.3,59"/>
<path transform="translate(2844.7 629.4)" d="M12.6,14.6 L17,14.6 C21,14.6 24,9.5 25.8,2.8 M25.8,2.8 L25.8,73"/>
<path transform="translate(2905.5 629.4)" d="M4.8,38 A20.2,35.2 0 1,0 45.2,38 A20.2,35.2 0 1,0 4.8,38"/>
<path transform="translate(2966.4 629.4)" d="M6.1,19 C6.1,8 14.1,2.8 24.6,2.8 C35.1,2.8 42.1,9 42.1,18.5 C42.1,28 35.1,34.5 26.1,35 L18.1,35 M26.1,35 C37.1,35 45.1,42 45.1,52 C45.1,64 36.1,73 24.1,73 C12.1,73 4.6,64 4.1,52"/>
<path transform="translate(2886.2 940.0)" d="M12.6,14.6 L17,14.6 C21,14.6 24,9.5 25.8,2.8 M25.8,2.8 L25.8,73"/>
<path transform="translate(2947.0 940.0)" d="M12.6,14.6 L17,14.6 C21,14.6 24,9.5 25.8,2.8 M25.8,2.8 L25.8,73"/>
<path transform="translate(3007.9 940.0)" d="M6.1,19 C6.1,8 14.1,2.8 24.6,2.8 C35.1,2.8 42.1,9 42.1,18.5 C42.1,28 35.1,34.5 26.1,35 L18.1,35 M26.1,35 C37.1,35 45.1,42 45.1,52 C45.1,64 36.1,73 24.1,73 C12.1,73 4.6,64 4.1,52"/>
<path transform="translate(2142.4 1443.5)" d="M12.6,14.6 L17,14.6 C21,14.6 24,9.5 25.8,2.8 M25.8,2.8 L25.8,73"/>
<path transform="translate(2203.2 1443.5)" d="M6.1,19 C6.1,8 14.1,2.8 24.6,2.8 C35.1,2.8 42.1,9 42.1,18.5 C42.1,28 35.1,34.5 26.1,35 L18.1,35 M26.1,35 C37.1,35 45.1,42 45.1,52 C45.1,64 36.1,73 24.1,73 C12.1,73 4.6,64 4.1,52"/>
<path transform="translate(2264.1 1443.5)" d="M12.6,14.6 L17,14.6 C21,14.6 24,9.5 25.8,2.8 M25.8,2.8 L25.8,73"/>
<path transform="translate(2324.9 1443.5)" d="M7.5,35.7 C9.3,27 16.3,22.7 24.3,22.7 C34.3,22.7 41.2,27 41.2,36 L41.2,64 C41.2,68 44.3,70.8 49,70.8 M41.2,45 C32.3,47 22.3,48 14.3,50 C7.3,52 4.3,56 4.3,61 C4.3,67 10.3,71.5 19.3,71.5 C29.3,71.5 37.3,67 41.2,60"/>
<path transform="translate(1804.8 1664.9)" d="M12.6,14.6 L17,14.6 C21,14.6 24,9.5 25.8,2.8 M25.8,2.8 L25.8,73"/>
<path transform="translate(1865.6 1664.9)" d="M6.1,19 C6.1,8 14.1,2.8 24.6,2.8 C35.1,2.8 42.1,9 42.1,18.5 C42.1,28 35.1,34.5 26.1,35 L18.1,35 M26.1,35 C37.1,35 45.1,42 45.1,52 C45.1,64 36.1,73 24.1,73 C12.1,73 4.6,64 4.1,52"/>
<path transform="translate(1926.5 1664.9)" d="M12.6,14.6 L17,14.6 C21,14.6 24,9.5 25.8,2.8 M25.8,2.8 L25.8,73"/>
<path transform="translate(1987.3 1664.9)" d="M45.5,32 C42,24.5 35,21.9 26.5,21.9 C14,21.9 5.2,32 5.2,47.2 C5.2,63 14,72.5 26.5,72.5 C36,72.5 43,67 46,58.5"/>
<path transform="translate(1266.9 1539.2)" d="M12.6,14.6 L17,14.6 C21,14.6 24,9.5 25.8,2.8 M25.8,2.8 L25.8,73"/>
<path transform="translate(1327.8 1539.2)" d="M4.8,38 A20.2,35.2 0 1,0 45.2,38 A20.2,35.2 0 1,0 4.8,38"/>
<path transform="translate(1388.6 1539.2)" d="M6.1,19 C6.1,8 14.1,2.8 24.6,2.8 C35.1,2.8 42.1,9 42.1,18.5 C42.1,28 35.1,34.5 26.1,35 L18.1,35 M26.1,35 C37.1,35 45.1,42 45.1,52 C45.1,64 36.1,73 24.1,73 C12.1,73 4.6,64 4.1,52"/>
<path transform="translate(1226.7 1777.2)" d="M12.6,14.6 L17,14.6 C21,14.6 24,9.5 25.8,2.8 M25.8,2.8 L25.8,73"/>
<path transform="translate(1287.5 1777.2)" d="M12.6,14.6 L17,14.6 C21,14.6 24,9.5 25.8,2.8 M25.8,2.8 L25.8,73"/>
<path transform="translate(1348.4 1777.2)" d="M6.1,19 C6.1,8 14.1,2.8 24.6,2.8 C35.1,2.8 42.1,9 42.1,18.5 C42.1,28 35.1,34.5 26.1,35 L18.1,35 M26.1,35 C37.1,35 45.1,42 45.1,52 C45.1,64 36.1,73 24.1,73 C12.1,73 4.6,64 4.1,52"/>
<path transform="translate(497.6 1949.9)" d="M12.6,14.6 L17,14.6 C21,14.6 24,9.5 25.8,2.8 M25.8,2.8 L25.8,73"/>
<path transform="translate(558.4 1949.9)" d="M4.8,38 A20.2,35.2 0 1,0 45.2,38 A20.2,35.2 0 1,0 4.8,38"/>
<path transform="translate(619.3 1949.9)" d="M6.1,19 C6.1,8 14.1,2.8 24.6,2.8 C35.1,2.8 42.1,9 42.1,18.5 C42.1,28 35.1,34.5 26.1,35 L18.1,35 M26.1,35 C37.1,35 45.1,42 45.1,52 C45.1,64 36.1,73 24.1,73 C12.1,73 4.6,64 4.1,52"/>
<path transform="translate(916.8 2090.5)" d="M12.6,14.6 L17,14.6 C21,14.6 24,9.5 25.8,2.8 M25.8,2.8 L25.8,73"/>
<path transform="translate(977.7 2090.5)" d="M12.6,14.6 L17,14.6 C21,14.6 24,9.5 25.8,2.8 M25.8,2.8 L25.8,73"/>
<path transform="translate(1038.5 2090.5)" d="M6.1,19 C6.1,8 14.1,2.8 24.6,2.8 C35.1,2.8 42.1,9 42.1,18.5 C42.1,28 35.1,34.5 26.1,35 L18.1,35 M26.1,35 C37.1,35 45.1,42 45.1,52 C45.1,64 36.1,73 24.1,73 C12.1,73 4.6,64 4.1,52"/>
<path transform="translate(97.2 2332.1)" d="M12.6,14.6 L17,14.6 C21,14.6 24,9.5 25.8,2.8 M25.8,2.8 L25.8,73"/>
<path transform="translate(158.1 2332.1)" d="M6.1,19 C6.1,8 14.1,2.8 24.6,2.8 C35.1,2.8 42.1,9 42.1,18.5 C42.1,28 35.1,34.5 26.1,35 L18.1,35 M26.1,35 C37.1,35 45.1,42 45.1,52 C45.1,64 36.1,73 24.1,73 C12.1,73 4.6,64 4.1,52"/>
<path transform="translate(218.9 2332.1)" d="M6.1,19 C6.1,8 14.1,2.8 24.6,2.8 C35.1,2.8 42.1,9 42.1,18.5 C42.1,28 35.1,34.5 26.1,35 L18.1,35 M26.1,35 C37.1,35 45.1,42 45.1,52 C45.1,64 36.1,73 24.1,73 C12.1,73 4.6,64 4.1,52"/>
<path transform="translate(92.1 2709.0)" d="M12.6,14.6 L17,14.6 C21,14.6 24,9.5 25.8,2.8 M25.8,2.8 L25.8,73"/>
<path transform="translate(153.0 2709.0)" d="M5.6,22.7 C5.6,10 14,2.8 24.9,2.8 C36,2.8 43.2,10 43.2,20.2 C43.2,30 37,36 28,41 C14,49 5,56 4.3,71 L47,71"/>
<path transform="translate(213.8 2709.0)" d="M6,3.8 L45.5,3.8 C34,18 27,29 22,44 C19,54 17,63 16.5,72.5"/>
<path transform="translate(33.2 3091.2)" d="M12.6,14.6 L17,14.6 C21,14.6 24,9.5 25.8,2.8 M25.8,2.8 L25.8,73"/>
<path transform="translate(94.1 3091.2)" d="M5.6,22.7 C5.6,10 14,2.8 24.9,2.8 C36,2.8 43.2,10 43.2,20.2 C43.2,30 37,36 28,41 C14,49 5,56 4.3,71 L47,71"/>
<path transform="translate(154.9 3091.2)" d="M12.6,14.6 L17,14.6 C21,14.6 24,9.5 25.8,2.8 M25.8,2.8 L25.8,73"/>
<path transform="translate(215.8 3091.2)" d="M7.05,2.8 L7.05,72 M11.6,46.9 A18.4,25.3 0 1,0 48.4,46.9 A18.4,25.3 0 1,0 11.6,46.9"/>
<path transform="translate(19.3 3340.0)" d="M12.6,14.6 L17,14.6 C21,14.6 24,9.5 25.8,2.8 M25.8,2.8 L25.8,73"/>
<path transform="translate(80.2 3340.0)" d="M5.6,22.7 C5.6,10 14,2.8 24.9,2.8 C36,2.8 43.2,10 43.2,20.2 C43.2,30 37,36 28,41 C14,49 5,56 4.3,71 L47,71"/>
<path transform="translate(141.0 3340.0)" d="M12.6,14.6 L17,14.6 C21,14.6 24,9.5 25.8,2.8 M25.8,2.8 L25.8,73"/>
<path transform="translate(201.9 3340.0)" d="M7.5,35.7 C9.3,27 16.3,22.7 24.3,22.7 C34.3,22.7 41.2,27 41.2,36 L41.2,64 C41.2,68 44.3,70.8 49,70.8 M41.2,45 C32.3,47 22.3,48 14.3,50 C7.3,52 4.3,56 4.3,61 C4.3,67 10.3,71.5 19.3,71.5 C29.3,71.5 37.3,67 41.2,60"/>
<path transform="translate(1532.2 3281.0)" d="M12.6,14.6 L17,14.6 C21,14.6 24,9.5 25.8,2.8 M25.8,2.8 L25.8,73"/>
<path transform="translate(1593.0 3281.0)" d="M5.6,22.7 C5.6,10 14,2.8 24.9,2.8 C36,2.8 43.2,10 43.2,20.2 C43.2,30 37,36 28,41 C14,49 5,56 4.3,71 L47,71"/>
<path transform="translate(1653.9 3281.0)" d="M12.6,14.6 L17,14.6 C21,14.6 24,9.5 25.8,2.8 M25.8,2.8 L25.8,73"/>
<path transform="translate(2145.2 2630.8)" d="M12.6,14.6 L17,14.6 C21,14.6 24,9.5 25.8,2.8 M25.8,2.8 L25.8,73"/>
<path transform="translate(2206.0 2630.8)" d="M5.6,22.7 C5.6,10 14,2.8 24.9,2.8 C36,2.8 43.2,10 43.2,20.2 C43.2,30 37,36 28,41 C14,49 5,56 4.3,71 L47,71"/>
<path transform="translate(2266.9 2630.8)" d="M12.6,14.6 L17,14.6 C21,14.6 24,9.5 25.8,2.8 M25.8,2.8 L25.8,73"/>
<path transform="translate(2327.8 2630.8)" d="M45.5,32 C42,24.5 35,21.9 26.5,21.9 C14,21.9 5.2,32 5.2,47.2 C5.2,63 14,72.5 26.5,72.5 C36,72.5 43,67 46,58.5"/>
<path transform="translate(2749.1 2501.9)" d="M12.6,14.6 L17,14.6 C21,14.6 24,9.5 25.8,2.8 M25.8,2.8 L25.8,73"/>
<path transform="translate(2809.9 2501.9)" d="M5.6,22.7 C5.6,10 14,2.8 24.9,2.8 C36,2.8 43.2,10 43.2,20.2 C43.2,30 37,36 28,41 C14,49 5,56 4.3,71 L47,71"/>
<path transform="translate(2870.8 2501.9)" d="M12.6,14.6 L17,14.6 C21,14.6 24,9.5 25.8,2.8 M25.8,2.8 L25.8,73"/>
<path transform="translate(2931.7 2501.9)" d="M46.1,2.8 L46.1,72.5 M5,48.1 A19.5,25 0 1,0 44,48.1 A19.5,25 0 1,0 5,48.1"/>
</g>
</svg></body></html>
